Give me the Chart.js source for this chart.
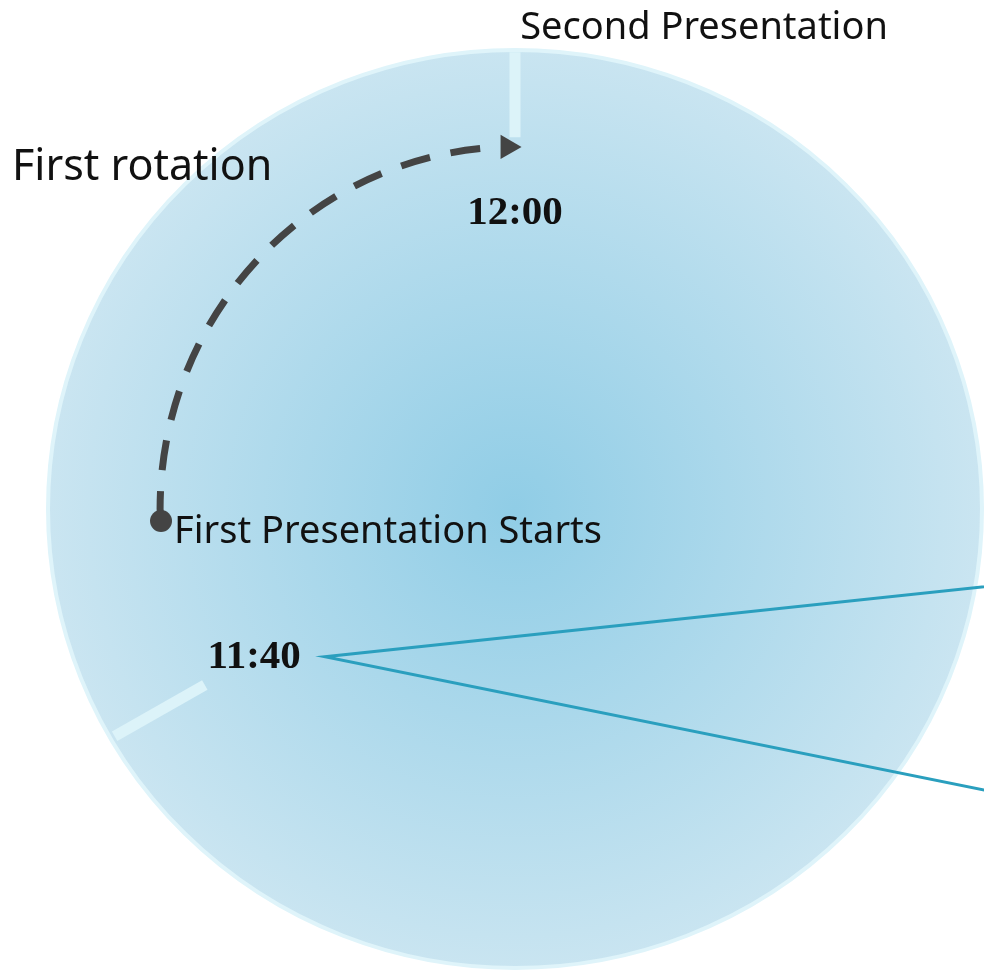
<!DOCTYPE html>
<html>
<head>
<meta charset="utf-8">
<script src="https://cdn.jsdelivr.net/npm/chart.js@4/dist/chart.umd.min.js"></script>
<style>
    html, body { margin: 0; padding: 0; background: #fff; overflow: hidden; }
    #wrap { width: 984px; height: 970px; position: relative; }
    canvas { display: block; }
</style>
</head>
<body>
<div id="wrap"><canvas id="clockChart"></canvas></div>
<script>
// clock face: one full turn = one hour, positions in minutes past the hour
const tickTimes = ['11:40', '12:00'];
const tickMinutes = [40, 60];
const tickInner = [0.767, 0.81];
const tickOuter = [0.99, 0.995];
const labelRadius = 0.645;

// "First rotation" arc, from quarter to the hour up to 12:00
const arcMinutes = [45, 59.8];
const arcRadiusX = 0.76;
const arcRadiusY = 0.789;
const startPoint = [-0.758, -0.026];

// callout lines leaving the 11:40 label
const calloutX = [1.1, -0.407, 1.1];
const calloutY = [-0.159, -0.322, -0.632];

const notes = ['Second Presentation', 'First rotation', 'First Presentation Starts'];
const noteX = [0.011, -1.077, -0.73];
const noteY = [1.024, 0.717, -0.074];
const noteSize = [38, 43, 38];

function polar(r, minutes) {
    const a = minutes / 60 * Math.PI * 2;
    return { x: r * Math.sin(a), y: r * Math.cos(a) };
}

const tickSets = tickMinutes.map(function(m, i) {
    return {
        data: [polar(tickOuter[i], m), polar(tickInner[i], m)],
        showLine: true,
        borderColor: '#dcf3f9',
        borderWidth: 11,
        borderCapStyle: 'butt',
        pointRadius: 0
    };
});

const arcAngle = arcMinutes[1] / 60 * Math.PI * 2;
const arcEnd = { x: arcRadiusX * Math.sin(arcAngle), y: arcRadiusY * Math.cos(arcAngle) };

const clockFace = {
    id: 'clockFace',
    beforeDatasetsDraw(chart) {
        const ctx = chart.ctx;
        const xs = chart.scales.x, ys = chart.scales.y;
        const cx = xs.getPixelForValue(0), cy = ys.getPixelForValue(0);
        const rx = xs.getPixelForValue(1) - cx;
        const ry = cy - ys.getPixelForValue(1);

        ctx.save();
        const grad = ctx.createRadialGradient(cx, cy, 0, cx, cy, rx);
        grad.addColorStop(0, '#90cde6');
        grad.addColorStop(1, '#cae5f1');
        ctx.beginPath();
        ctx.ellipse(cx, cy, rx, ry, 0, 0, Math.PI * 2);
        ctx.fillStyle = grad;
        ctx.fill();
        ctx.lineWidth = 4;
        ctx.strokeStyle = '#dff4fa';
        ctx.stroke();

        // dashed rotation arc
        const arx = xs.getPixelForValue(arcRadiusX) - cx;
        const ary = cy - ys.getPixelForValue(arcRadiusY);
        const a0 = arcMinutes[0] / 60 * Math.PI * 2 - Math.PI / 2;
        const a1 = arcMinutes[1] / 60 * Math.PI * 2 - Math.PI / 2;
        ctx.beginPath();
        ctx.moveTo(xs.getPixelForValue(startPoint[0]), ys.getPixelForValue(startPoint[1]));
        ctx.ellipse(cx, cy, arx, ary, 0, a0, a1);
        ctx.setLineDash([30, 21]);
        ctx.lineWidth = 7;
        ctx.strokeStyle = '#444444';
        ctx.stroke();
        ctx.restore();
    },
    afterDatasetsDraw(chart) {
        const ctx = chart.ctx;
        const xs = chart.scales.x, ys = chart.scales.y;
        ctx.save();
        ctx.fillStyle = '#111';
        ctx.textBaseline = 'alphabetic';
        ctx.textAlign = 'left';
        notes.forEach(function(t, i) {
            ctx.font = noteSize[i] + 'px "Noto Sans"';
            ctx.fillText(t, xs.getPixelForValue(noteX[i]), ys.getPixelForValue(noteY[i]));
        });

        ctx.font = 'bold 41px "Liberation Serif"';
        ctx.textAlign = 'center';
        ctx.textBaseline = 'middle';
        tickTimes.forEach(function(t, i) {
            const p = polar(labelRadius, tickMinutes[i]);
            ctx.fillText(t, xs.getPixelForValue(p.x), ys.getPixelForValue(p.y));
        });
        ctx.restore();
    }
};

new Chart(document.getElementById('clockChart'), {
    type: 'scatter',
    data: {
        datasets: tickSets.concat([
            {
                data: calloutX.map(function(x, i) { return { x: x, y: calloutY[i] }; }),
                showLine: true,
                borderColor: '#2a9fbe',
                borderWidth: 3,
                pointRadius: 0
            },
            {
                data: [{ x: startPoint[0], y: startPoint[1] }],
                pointRadius: 11,
                pointBackgroundColor: '#444444',
                pointBorderWidth: 0
            },
            {
                data: [arcEnd],
                pointStyle: 'triangle',
                rotation: 90,
                pointRadius: 14,
                pointBackgroundColor: '#444444',
                pointBorderWidth: 0
            }
        ])
    },
    options: {
        responsive: true,
        maintainAspectRatio: false,
        animation: false,
        layout: { padding: 0, autoPadding: false },
        plugins: {
            legend: { display: false },
            tooltip: { enabled: false }
        },
        scales: {
            x: { type: 'linear', display: false, min: -1.1028, max: 1.0043 },
            y: { type: 'linear', display: false, min: -1.0044, max: 1.1089 }
        }
    },
    plugins: [clockFace]
});
</script>
</body>
</html>
